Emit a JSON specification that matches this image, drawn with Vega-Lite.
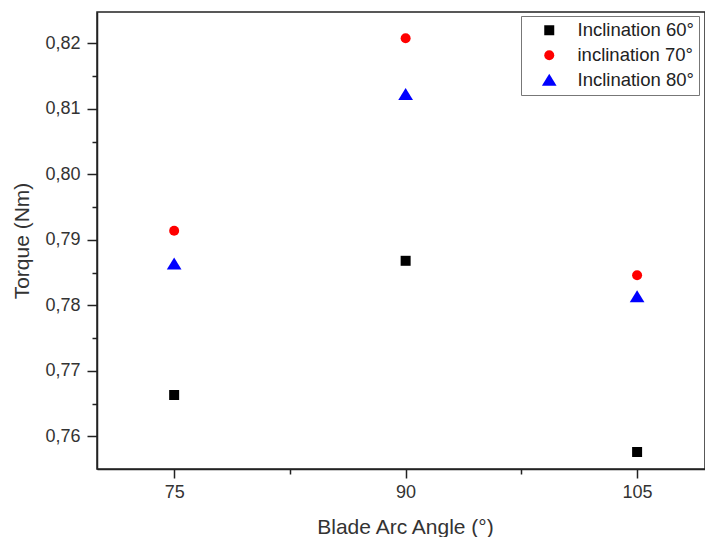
{
  "$schema": "https://vega.github.io/schema/vega-lite/v6.json",
  "autosize": {"type": "none"},
  "padding": {"left": 97, "top": 12, "right": 0, "bottom": 68},
  "width": 608,
  "height": 457,
  "background": "white",
  "config": {
    "font": "Liberation Sans",
    "view": {"stroke": "#222", "strokeWidth": 1.5},
    "axis": {"domainColor": "#222", "domainWidth": 1.5, "tickColor": "#222", "tickWidth": 1.5, "labelColor": "#333", "titleColor": "#333", "labelFont": "Liberation Sans", "titleFont": "Liberation Sans", "titleFontWeight": "normal", "grid": false}
  },
  "data": {"values": [
    {"angle": 75, "torque": 0.7663, "series": "Inclination 60°"},
    {"angle": 90, "torque": 0.7868, "series": "Inclination 60°"},
    {"angle": 105, "torque": 0.7576, "series": "Inclination 60°"},
    {"angle": 75, "torque": 0.7914, "series": "inclination 70°"},
    {"angle": 90, "torque": 0.8208, "series": "inclination 70°"},
    {"angle": 105, "torque": 0.7846, "series": "inclination 70°"},
    {"angle": 75, "torque": 0.7863, "series": "Inclination 80°"},
    {"angle": 90, "torque": 0.8122, "series": "Inclination 80°"},
    {"angle": 105, "torque": 0.7813, "series": "Inclination 80°"}
  ]},
  "mark": {"type": "point", "filled": true, "opacity": 1, "size": 100},
  "encoding": {
    "x": {
      "field": "angle", "type": "quantitative",
      "scale": {"domain": [70, 109.4], "nice": false, "zero": false},
      "axis": {
        "title": "Blade Arc Angle (°)",
        "titleFontSize": 21, "titlePadding": 15, "titleX": 308,
        "values": [75, 82.5, 90, 97.5, 105],
        "labelExpr": "datum.value % 15 === 0 ? format(datum.value, 'd') : ''",
        "labelFontSize": 18, "labelPadding": 5,
        "tickSize": {"condition": {"test": "datum.value % 15 === 0", "value": 9}, "value": 5}
      }
    },
    "y": {
      "field": "torque", "type": "quantitative",
      "scale": {"domain": [0.755, 0.8248], "nice": false, "zero": false},
      "axis": {
        "title": "Torque (Nm)",
        "titleFontSize": 21, "titlePadding": 12,
        "values": [0.76, 0.765, 0.77, 0.775, 0.78, 0.785, 0.79, 0.795, 0.8, 0.805, 0.81, 0.815, 0.82],
        "labelExpr": "round(datum.value * 1000) % 10 === 0 ? replace(format(datum.value, '.2f'), '.', ',') : ''",
        "labelFontSize": 18, "labelPadding": 7,
        "tickSize": {"condition": {"test": "round(datum.value * 1000) % 10 === 0", "value": 10}, "value": 5}
      }
    },
    "color": {
      "field": "series", "type": "nominal",
      "scale": {"domain": ["Inclination 60°", "inclination 70°", "Inclination 80°"], "range": ["#000000", "#ff0000", "#0000ff"]},
      "legend": {
        "title": null, "orient": "none", "legendX": 424, "legendY": 4,
        "labelFontSize": 18.5, "labelColor": "#222", "labelFont": "Liberation Sans",
        "strokeColor": "#777", "fillColor": "white", "padding": 5,
        "rowPadding": 6, "symbolOffset": 14, "labelOffset": 19, "symbolSize": 100, "symbolStrokeWidth": 0
      }
    },
    "shape": {
      "field": "series", "type": "nominal",
      "scale": {"domain": ["Inclination 60°", "inclination 70°", "Inclination 80°"], "range": ["square", "circle", "M0,-1.3L1.47,1.1L-1.47,1.1Z"]},
      "legend": null
    }
  }
}
